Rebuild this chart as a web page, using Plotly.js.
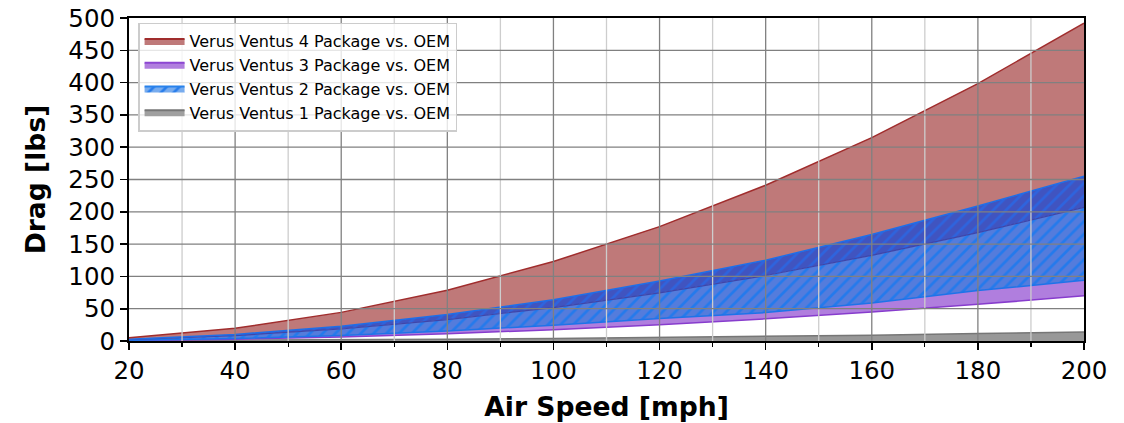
<!DOCTYPE html>
<html>
<head>
<meta charset="utf-8">
<script src="https://cdn.plot.ly/plotly-3.0.1.min.js"></script>
<style>html,body{margin:0;padding:0;background:#fff;}#chart{width:1124px;height:423px;}</style>
</head>
<body>
<div id="chart"></div>
<script>
// ---- data ----
const airSpeed = [20, 40, 60, 80, 100, 120, 140, 160, 180, 200];
const ventus4Upper = [4.9, 19.7, 44.3, 78.7, 123, 177.1, 241.1, 314.9, 398.5, 492];
const ventus4Lower = [2.1, 8.3, 18.6, 33.1, 51.8, 74.5, 101.4, 132.5, 167.7, 207];
const ventus2Upper = [2.6, 10.2, 23, 41, 64, 93, 125, 165, 209, 255];
const ventus2Lower = [1, 3.8, 8.5, 15.5, 24.5, 35, 44, 59, 78, 94];
const ventus3Lower = [0.7, 2.8, 6.3, 11.2, 17.5, 25.2, 34.3, 44.8, 56.7, 70];
const ventus1Upper = [0.5, 1, 1.8, 2.8, 4, 5.5, 7, 9, 11.5, 14];
const xMajorTicks = [20, 40, 60, 80, 100, 120, 140, 160, 180, 200];
const xMinorTicks = [30, 50, 70, 90, 110, 130, 150, 170, 190];
const yTicks = [0, 50, 100, 150, 200, 250, 300, 350, 400, 450, 500];
const seriesNames = [
  'Verus Ventus 4 Package vs. OEM',
  'Verus Ventus 3 Package vs. OEM',
  'Verus Ventus 2 Package vs. OEM',
  'Verus Ventus 1 Package vs. OEM'
];

const FONT = 'DejaVu Sans, Liberation Sans, sans-serif';

const traces = [
  // Ventus 1 (gray)
  {x: airSpeed, y: ventus1Upper, mode: 'lines', fill: 'tozeroy',
   fillcolor: 'rgb(152,152,152)', line: {color: 'rgb(118,118,118)', width: 1.5},
   showlegend: false, hoverinfo: 'skip'},
  // Ventus 3 (purple) lower edge
  {x: airSpeed, y: ventus3Lower, mode: 'lines', line: {color: 'rgb(135,60,205)', width: 1.5},
   showlegend: false, hoverinfo: 'skip'},
  // Ventus 3 fill up to the blue band
  {x: airSpeed, y: ventus2Lower, mode: 'lines', fill: 'tonexty',
   fillcolor: 'rgb(176,126,222)', line: {color: 'rgb(135,60,205)', width: 0},
   showlegend: false, hoverinfo: 'skip'},
  // Ventus 2 (blue hatched) lower edge
  {x: airSpeed, y: ventus2Lower, mode: 'lines', line: {color: 'rgb(30,115,232)', width: 1.5},
   showlegend: false, hoverinfo: 'skip'},
  // Ventus 2 hatched region
  {x: airSpeed, y: ventus4Lower, mode: 'lines', fill: 'tonexty',
   fillcolor: 'rgb(84,124,220)',
   fillpattern: {shape: '/', bgcolor: 'rgb(84,124,220)', fgcolor: 'rgb(36,122,236)', size: 9, solidity: 0.3},
   line: {color: 'rgb(62,70,170)', width: 1.2},
   showlegend: false, hoverinfo: 'skip'},
  // Ventus 2 band overlapping Ventus 4
  {x: airSpeed, y: ventus2Upper, mode: 'lines', fill: 'tonexty',
   fillcolor: 'rgb(64,84,192)',
   fillpattern: {shape: '/', bgcolor: 'rgb(64,84,192)', fgcolor: 'rgb(46,100,222)', size: 9, solidity: 0.3},
   line: {color: 'rgb(30,110,232)', width: 1.5},
   showlegend: false, hoverinfo: 'skip'},
  // Ventus 4 (red)
  {x: airSpeed, y: ventus4Upper, mode: 'lines', fill: 'tonexty',
   fillcolor: 'rgb(191,121,121)', line: {color: 'rgb(160,45,45)', width: 1.5},
   showlegend: false, hoverinfo: 'skip'},
  // legend entries
  {x: [null], y: [null], mode: 'lines', fill: 'toself', name: seriesNames[0], legendrank: 1,
   fillcolor: 'rgb(191,121,121)', line: {color: 'rgb(160,45,45)', width: 2}},
  {x: [null], y: [null], mode: 'lines', fill: 'toself', name: seriesNames[1], legendrank: 2,
   fillcolor: 'rgb(176,126,222)', line: {color: 'rgb(140,70,210)', width: 2}},
  {x: [null], y: [null], mode: 'lines', fill: 'toself', name: seriesNames[2], legendrank: 3,
   fillcolor: 'rgb(120,172,238)',
   fillpattern: {shape: '/', bgcolor: 'rgb(120,172,238)', fgcolor: 'rgb(40,125,235)', size: 9, solidity: 0.3},
   line: {color: 'rgb(40,130,235)', width: 2}},
  {x: [null], y: [null], mode: 'lines', fill: 'toself', name: seriesNames[3], legendrank: 4,
   fillcolor: 'rgb(160,160,160)', line: {color: 'rgb(118,118,118)', width: 2}}
];

const gridShapes = [];
xMajorTicks.slice(1, -1).forEach(v => gridShapes.push({type: 'line', layer: 'above', xref: 'x', yref: 'paper',
  x0: v, x1: v, y0: 0, y1: 1, line: {color: 'rgb(128,128,128)', width: 1.3}}));
xMinorTicks.forEach(v => gridShapes.push({type: 'line', layer: 'above', xref: 'x', yref: 'paper',
  x0: v, x1: v, y0: 0, y1: 1, line: {color: 'rgb(205,205,205)', width: 1.3}}));
yTicks.slice(1, -1).forEach(v => gridShapes.push({type: 'line', layer: 'above', xref: 'paper', yref: 'y',
  x0: 0, x1: 1, y0: v, y1: v, line: {color: 'rgb(128,128,128)', width: 1.3}}));

const layout = {
  width: 1124, height: 423,
  margin: {l: 129, r: 40, t: 18, b: 82},
  paper_bgcolor: '#fff', plot_bgcolor: '#fff',
  font: {family: FONT, color: '#000'},
  showlegend: true,
  legend: {x: 0.0095, y: 0.986, xanchor: 'left', yanchor: 'top',
    bgcolor: 'rgba(255,255,255,0.8)', bordercolor: 'rgb(204,204,204)', borderwidth: 1.5,
    font: {family: FONT, size: 16, color: '#000'}, traceorder: 'normal', tracegroupgap: 0,
    itemwidth: 40},
  xaxis: {
    range: [20, 200], tickvals: xMajorTicks, ticktext: xMajorTicks.map(String),
    showgrid: false, zeroline: false, showline: true, mirror: true, linecolor: '#000', linewidth: 2,
    ticks: 'outside', ticklen: 7, tickwidth: 1.6, tickcolor: '#000', layer: 'above traces',
    tickfont: {family: FONT, size: 24.5, color: '#000'},
    minor: {tickvals: xMinorTicks, ticks: 'outside', ticklen: 4, tickwidth: 1.2, tickcolor: '#000', showgrid: false},
    title: {text: 'Air Speed [mph]', font: {family: FONT, size: 26.6, weight: 700, color: '#000'}, standoff: 13}
  },
  yaxis: {
    range: [0, 500], tickvals: yTicks, ticktext: yTicks.map(String),
    showgrid: false, zeroline: false, showline: true, mirror: true, linecolor: '#000', linewidth: 2,
    ticks: 'outside', ticklen: 7, tickwidth: 1.6, tickcolor: '#000', layer: 'above traces',
    tickfont: {family: FONT, size: 24.5, color: '#000'},
    title: {text: 'Drag [lbs]', font: {family: FONT, size: 26.6, weight: 700, color: '#000'}, standoff: 15}
  },
  shapes: gridShapes
};

Plotly.newPlot('chart', traces, layout, {displayModeBar: false, staticPlot: true});
</script>
</body>
</html>
